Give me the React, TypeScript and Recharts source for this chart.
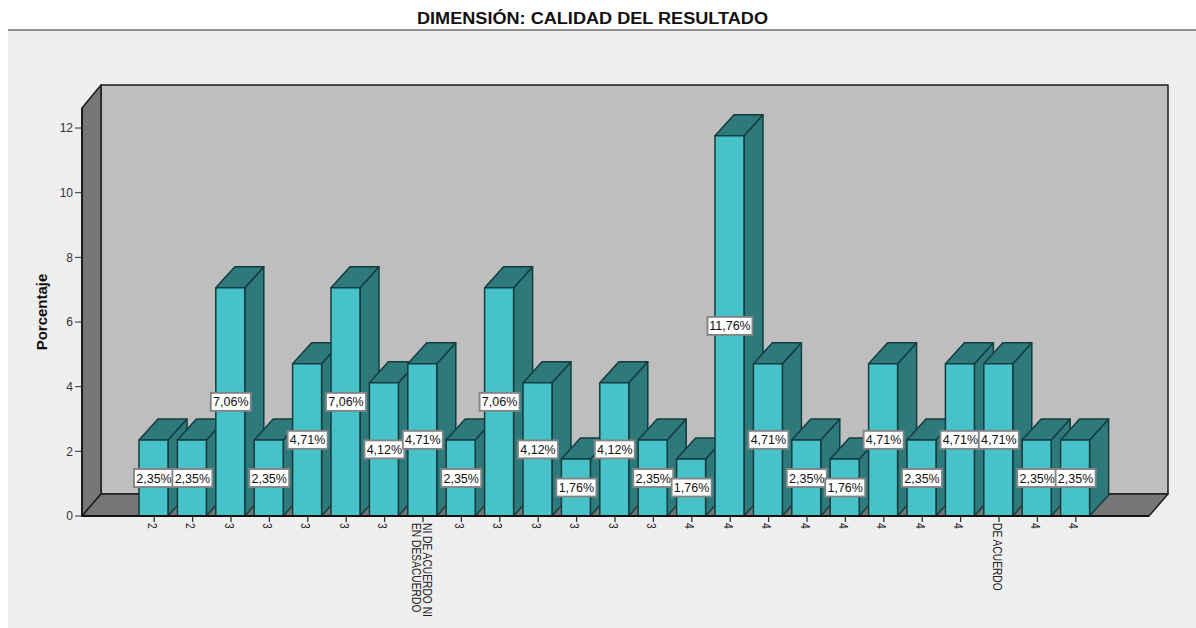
import { Bar, BarChart, LabelList, XAxis, YAxis } from "recharts";

const categories = [
  "2", "2", "3", "3", "3", "3", "3", "NI DE ACUERDO NI\nEN DESACUERDO", "3", "3", "3", "3", "3",
  "3", "4", "4", "4", "4", "4", "4", "4", "4", "DE ACUERDO", "4", "4",
];
const porcentaje = [
  2.35, 2.35, 7.06, 2.35, 4.71, 7.06, 4.12, 4.71, 2.35, 7.06, 4.12, 1.76, 4.12,
  2.35, 1.76, 11.76, 4.71, 2.35, 1.76, 4.71, 2.35, 4.71, 4.71, 2.35, 2.35,
];
const yTicks = [0, 2, 4, 6, 8, 10, 12];

const data = categories.map((name, i) => ({ id: i, name, value: porcentaje[i] }));

const FONT = "'Liberation Sans', Arial, sans-serif";
const W = 1196;
const H = 628;
// front plane of the fake 3D box
const LEFT = 82;
const RIGHT = 1149;
const TOP = 108;
const BOTTOM = 516;
const DX = 19;
const DY = 22;

const pts = (...p: number[][]) => p.map((q) => q.join(",")).join(" ");

function Box3D({ x, y, width, height }: any) {
  const r = x + width;
  const b = y + height;
  const dx = DX;
  const dy = 21;
  return (
    <g stroke="#143c3e" strokeWidth={1.5} strokeLinejoin="round">
      <polygon points={pts([r, y], [r + dx, y - dy], [r + dx, b - dy], [r, b])} fill="#2e797c" />
      <polygon points={pts([x, y], [x + dx, y - dy], [r + dx, y - dy], [r, y])} fill="#2e797c" />
      <rect x={x} y={y} width={width} height={height} fill="#47c2c8" />
    </g>
  );
}

function ValueBox({ x, y, width, height, value }: any) {
  const text = `${Number(value).toFixed(2).replace(".", ",")}%`;
  const w = text.length > 5 ? 45 : 40;
  const cx = x + width / 2 + 0.5;
  const cy = y + height / 2;
  return (
    <g>
      <rect x={cx - w / 2} y={cy - 9} width={w} height={18} fill="#fff" stroke="#808686" strokeWidth={1.9} />
      <text x={cx} y={cy + 4.5} textAnchor="middle" fontFamily={FONT} fontSize={12.5} fill="#111">
        {text}
      </text>
    </g>
  );
}

function RotatedTick({ x, y, payload }: any) {
  const lines = String(payload.value).split("\n");
  return (
    <g>
      <line x1={x + 1} x2={x + 1} y1={BOTTOM} y2={BOTTOM + 6} stroke="#333" strokeWidth={1.3} />
      {lines.map((line, i) => {
        // first line sits on the right once the text is turned 90 degrees
        const tx = x - 1 + (lines.length > 1 ? 6 - i * 11 : 0);
        const ty = y + 1;
        return (
          <text
            key={i}
            transform={`translate(${tx} ${ty}) rotate(90) scale(0.82 1)`}
            dominantBaseline="central"
            fontFamily={FONT}
            fontSize={12.5}
            fill="#222"
          >
            {line}
          </text>
        );
      })}
    </g>
  );
}

function Walls() {
  return (
    <svg width={W} height={H} style={{ position: "absolute", left: 0, top: 0 }}>
      <rect x={8} y={30} width={W - 8} height={H - 30} fill="#efefef" />
      <line x1={8} x2={W} y1={30} y2={30} stroke="#6f6f6f" strokeWidth={1.5} />
      <text x={592.5} y={24} textAnchor="middle" fontFamily={FONT} fontWeight="bold" fontSize={16} textLength={351} lengthAdjust="spacingAndGlyphs" fill="#111">
        DIMENSIÓN: CALIDAD DEL RESULTADO
      </text>
      <g stroke="#1c1c1c" strokeWidth={1.5} strokeLinejoin="round">
        <rect x={LEFT + DX} y={TOP - DY - 1} width={RIGHT - LEFT} height={BOTTOM - TOP + 1} fill="#bebebe" />
        <polygon
          points={pts([LEFT, TOP], [LEFT + DX, TOP - DY - 1], [LEFT + DX, BOTTOM - DY], [LEFT, BOTTOM])}
          fill="#767676"
        />
        <polygon
          points={pts([LEFT, BOTTOM], [LEFT + DX, BOTTOM - DY], [RIGHT + DX, BOTTOM - DY], [RIGHT, BOTTOM])}
          fill="#767676"
        />
      </g>
    </svg>
  );
}

export default function App() {
  return (
    <div style={{ position: "absolute", left: 0, top: 0, width: W, height: H, background: "#fff", overflow: "hidden" }}>
      <Walls />
      <div style={{ position: "absolute", left: 0, top: 0 }}>
        <BarChart
          width={W}
          height={H}
          data={data}
          barSize={29}
          margin={{ top: TOP, right: W - RIGHT, left: 30, bottom: 52 }}
        >
          <XAxis
            dataKey="name"
            height={H - BOTTOM - 52}
            interval={0}
            padding={{ left: 52, right: 55 }}
            axisLine={{ stroke: "#111", strokeWidth: 2 }}
            tickLine={false}
            tick={<RotatedTick />}
            tickMargin={0}
          />
          <YAxis
            width={LEFT - 30}
            domain={[0, (BOTTOM - TOP) / 32.33]}
            ticks={yTicks}
            allowDataOverflow
            axisLine={{ stroke: "#111", strokeWidth: 1.5 }}
            tickLine={{ stroke: "#333" }}
            tickSize={7}
            tick={{ fill: "#333", fontSize: 12, fontFamily: FONT }}
            label={{
              value: "Porcentaje",
              angle: -90,
              position: "insideLeft",
              offset: 12,
              textAnchor: "middle",
              style: { fontFamily: FONT, fontWeight: "bold", fontSize: 15, fill: "#111", textAnchor: "middle" },
            }}
          />
          <Bar dataKey="value" isAnimationActive={false} shape={<Box3D />}>
            <LabelList dataKey="value" content={<ValueBox />} />
          </Bar>
        </BarChart>
      </div>
    </div>
  );
}
